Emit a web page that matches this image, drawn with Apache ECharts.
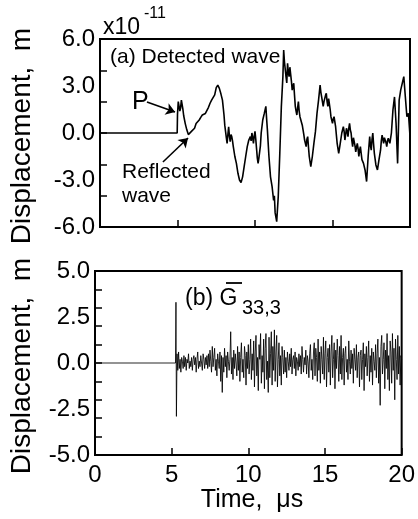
<!DOCTYPE html>
<html><head><meta charset="utf-8">
<script src="https://cdn.jsdelivr.net/npm/echarts@6/dist/echarts.min.js"></script>
<style>html,body{margin:0;padding:0;background:#fff}#c{width:418px;height:519px}</style>
</head><body><div id="c"></div>
<script>
// ---------- data ----------
const timeTicks = [0, 5, 10, 15, 20];             // μs
const topYLabels = [-6, -3, 0, 3, 6];              // x10^-11 m
const bottomYLabels = [-5, -2.5, 0, 2.5, 5];

// (a) detected wave: [time μs, displacement x1e-11 m]
const detectedWave = [
[0,0],[4.98,0],[5.0,1.2],[5.05,2.0],[5.1,1.9],[5.15,1.4],[5.2,1.6],[5.25,2.1],[5.3,2.0],[5.35,1.5],[5.4,1.1],[5.5,0.6],[5.6,0.2],[5.7,-0.1],[5.8,-0.15],[5.9,0.1],[6.0,0.2],[6.1,0.3],[6.2,0.6],[6.3,0.57],[6.4,0.83],[6.5,1.0],[6.6,1.15],[6.7,1.05],[6.8,1.25],[6.9,1.36],[7.0,1.64],[7.1,1.9],[7.2,2.1],[7.3,2.2],[7.4,2.43],[7.5,2.9],[7.6,3.06],[7.7,2.85],[7.8,2.5],[7.9,2.1],
[8.0,1.15],[8.05,0.5],[8.1,0.1],[8.15,-0.3],[8.2,-0.66],[8.25,-0.1],[8.3,0.4],[8.35,-0.2],[8.4,-0.55],[8.45,-0.1],[8.5,-0.23],[8.55,-0.5],[8.6,-0.87],[8.7,-1.5],[8.8,-1.94],[8.9,-2.57],[9.0,-3.0],[9.1,-3.17],[9.2,-2.8],[9.3,-2.15],[9.4,-1.5],[9.5,-0.87],[9.6,-0.45],[9.7,-0.23],[9.75,-0.5],[9.8,0],[9.85,-0.3],[9.9,-0.66],[9.95,-0.2],[10.0,0.1],[10.05,-0.4],[10.1,-1.0],[10.15,-1.6],[10.2,-1.94],[10.25,-1.6],[10.3,-1.5],[10.35,-0.8],[10.4,0],[10.5,0.83],[10.6,1.25],[10.7,1.7],[10.75,0.9],[10.8,0.2],[10.9,-1.5],[11.0,-2.8],[11.1,-3.4],[11.2,-4.3],[11.25,-4.0],[11.3,-5.1],[11.4,-5.66],[11.5,-4.06],[11.6,-1.3],[11.7,1.7],[11.8,3.6],[11.85,5.3],[11.9,4.55],
[12.0,3.6],[12.05,3.2],[12.1,4.45],[12.15,3.9],[12.2,3.6],[12.25,4.2],[12.3,4.1],[12.35,3.3],[12.4,2.74],[12.45,3.0],[12.5,3.17],[12.55,2.4],[12.6,1.7],[12.65,1.4],[12.7,1.15],[12.75,1.6],[12.8,2.0],[12.85,1.4],[12.9,1.04],[13.0,0.94],[13.05,0.5],[13.1,0.2],[13.15,-0.1],[13.2,-0.45],[13.3,-0.87],[13.35,-0.4],[13.4,-0.23],[13.45,-0.9],[13.5,-1.5],[13.6,-2.15],[13.7,-1.5],[13.8,-0.66],[13.9,0.1],[14.0,1.25],[14.1,2.1],
[14.2,3.06],[14.25,2.6],[14.3,2.3],[14.35,2.0],[14.4,1.7],[14.45,2.0],[14.5,2.1],[14.55,2.4],[14.6,2.53],[14.65,2.0],[14.7,1.7],[14.75,2.2],[14.8,2.1],[14.85,1.5],[14.9,1.04],[15.0,0.62],[15.05,0.9],[15.1,1.04],[15.2,0.4],[15.3,-0.66],[15.4,-1.3],[15.5,-0.66],[15.6,0],[15.7,0.4],[15.75,0.1],[15.8,-0.45],[15.85,-0.1],[15.9,0.3],[15.95,0.1],[16.0,-0.23],[16.05,0.3],[16.1,0.62],[16.15,0.2],[16.2,0],[16.25,-0.5],[16.3,-0.87],[16.35,-0.3],[16.4,-0.23],[16.45,-0.8],[16.5,-1.2],[16.55,-0.9],[16.6,-0.66],[16.65,-1.0],[16.7,-1.5],[16.75,-1.1],[16.8,-0.87],[16.85,-1.3],[16.9,-1.7],
[17.0,-1.94],[17.1,-2.36],[17.2,-3.1],[17.3,-1.5],[17.4,-0.23],[17.45,-0.8],[17.5,-1.1],[17.55,-0.4],[17.6,0],[17.65,-0.7],[17.7,-1.3],[17.8,-2.04],[17.9,-2.36],[18.0,-1.7],[18.1,-1.1],[18.15,-0.5],[18.2,-0.13],[18.25,-0.4],[18.3,-0.66],[18.35,-0.3],[18.4,-0.23],[18.45,-0.6],[18.5,-0.87],[18.55,-0.5],[18.6,-0.34],[18.65,-0.5],[18.7,-0.66],[18.8,0],[18.9,1.47],[19.0,2.3],[19.1,0.62],[19.2,-1.94],[19.3,2.1],[19.4,2.74],[19.5,3.17],[19.6,3.6],[19.7,2.3],[19.8,1.04],[19.9,1.25],[20.0,-0.2]
];

// (b) G33,3: quiet part, first arrival spike, then samples every 0.05 μs from 5.35 μs
const gQuiet = [[0,0],[5.25,0],[5.28,3.3],[5.31,-2.9]];
const gStart = 5.35, gStep = 0.05;
const gValues = [
0.5,-0.4,0.6,-0.3,0.2,-0.5,0.3,0.1,-0.3,0.4,-0.2,0.3,-0.4,0.2,0.0,0.5,-0.3,0.1,-0.2,0.3,
-0.4,0.2,0.4,-0.1,0.3,-0.5,0.2,0.6,-0.3,0.1,-0.2,0.4,0.0,-0.4,0.5,0.2,-0.3,0.3,-0.1,0.4,
-0.3,0.5,-0.2,0.7,0.1,-0.5,0.9,-0.2,0.3,0.8,-0.4,0.2,-0.7,0.5,0.1,-0.3,0.6,-1.0,0.4,-1.6,
0.3,-0.5,0.8,-0.2,0.4,-0.8,0.6,0.1,-0.4,0.2,1.7,-0.6,0.3,-0.9,0.7,-0.3,0.5,0.0,-0.7,0.9,
-0.4,0.6,-1.0,0.3,1.1,-0.5,0.2,-0.8,0.9,0.4,-1.2,0.6,-0.3,1.0,-0.6,0.2,1.3,-0.9,0.5,-0.4,
1.2,-1.3,0.6,1.5,-0.7,0.3,-1.5,1.0,0.2,1.6,-1.1,0.4,-0.5,1.3,-1.4,0.8,1.6,-0.9,0.1,-1.6,
1.4,-0.8,0.5,1.7,-1.2,0.9,-0.4,1.8,-1.0,0.6,1.5,-1.3,0.2,1.1,-0.7,0.4,-1.2,0.9,0.3,-0.6,
0.7,-0.5,0.3,-0.8,0.6,0.1,-0.4,0.5,-0.2,0.8,-0.6,0.2,0.4,-0.3,0.6,-0.7,0.3,0.1,-0.4,0.5,
-0.2,0.4,-0.6,0.9,0.2,-0.5,0.3,-0.1,0.7,-0.6,0.4,0.1,-0.8,0.5,1.0,-0.4,0.2,-0.9,0.6,1.1,
-0.7,0.8,0.3,-1.0,1.3,-0.4,0.6,-1.1,0.9,0.2,-0.6,1.4,-0.9,0.5,1.2,-1.3,0.3,0.8,-0.5,1.0,
-1.2,0.6,1.5,-0.8,0.2,1.1,-1.4,0.7,-0.3,1.3,0.4,-1.0,0.9,-0.6,1.5,-0.9,0.3,0.8,-1.2,0.5,
0.9,-0.5,0.2,-0.9,1.2,0.1,-0.6,0.7,-0.3,0.5,-1.1,0.8,0.2,-0.4,1.0,-0.8,0.3,0.6,-1.3,0.4,
0.7,-0.9,0.2,1.1,-1.5,0.5,-0.2,0.9,-0.7,0.3,1.2,-1.0,0.4,-0.5,0.8,-1.2,0.6,0.1,-0.4,1.0,
-0.8,0.5,1.3,-1.1,0.3,-2.3,0.9,1.5,-0.6,0.2,1.1,-1.4,0.7,-0.3,1.6,-0.9,0.4,-1.5,1.2,0.6,
-1.1,1.6,-0.4,0.8,-2.0,1.3,0.2,-0.9,1.5,-0.6,0.9,-1.2,0.4,0.2
];

// annotation arrows (data coordinates of panel a)
const arrowP = [[3.03, 1.98], [4.84, 1.34]];
const arrowReflected = [[4.06, -1.85], [5.68, -0.32]];

// ---------- chart ----------
const FONT = "'Liberation Sans', Arial, Helvetica, sans-serif";
const black = '#000';
const gSeries = gQuiet.concat(gValues.map((v, i) => [+(gStart + i * gStep).toFixed(2), v]));
const fmt1 = v => (Math.abs(v) < 1e-9 ? 0 : v).toFixed(1);

const tickAxis = (gi, min, max, interval) => ({
  gridIndex: gi, type: 'value', position: 'left', min, max, interval,
  axisLine: { show: false, onZero: false }, splitLine: { show: false },
  axisTick: { show: true, inside: true, length: 7, lineStyle: { color: black, width: 1.5 } },
  axisLabel: { show: false }
});
const labelAxis = (gi, min, max, interval) => ({
  gridIndex: gi, type: 'value', position: 'left', min, max, interval,
  axisLine: { show: false, onZero: false }, splitLine: { show: false }, axisTick: { show: false },
  axisLabel: { show: true, formatter: fmt1, color: black, fontSize: 24, fontFamily: FONT, margin: 5 }
});

const chart = echarts.init(document.getElementById('c'), null, { renderer: 'canvas' });
chart.setOption({
  animation: false,
  backgroundColor: '#fff',
  grid: [
    { left: 100, top: 39, width: 310, height: 188, show: true, borderColor: black, borderWidth: 2, backgroundColor: 'transparent' },
    { left: 95, top: 271, width: 311, height: 184, show: true, borderColor: black, borderWidth: 2, backgroundColor: 'transparent' }
  ],
  xAxis: [
    { gridIndex: 0, type: 'value', position: 'bottom', min: timeTicks[0], max: timeTicks[timeTicks.length - 1], interval: 5,
      axisLine: { show: false, onZero: false }, splitLine: { show: false }, axisLabel: { show: false },
      axisTick: { inside: true, length: 7, lineStyle: { color: black, width: 1.5 } } },
    { gridIndex: 1, type: 'value', position: 'bottom', min: timeTicks[0], max: timeTicks[timeTicks.length - 1], interval: 5,
      axisLine: { show: false, onZero: false }, splitLine: { show: false },
      axisTick: { inside: true, length: 7, lineStyle: { color: black, width: 1.5 } },
      axisLabel: { color: black, fontSize: 24, fontFamily: FONT, margin: 8 } }
  ],
  yAxis: [
    labelAxis(0, topYLabels[0], topYLabels[topYLabels.length - 1], 3),
    tickAxis(0, -6, 6, 2),
    labelAxis(1, bottomYLabels[0], bottomYLabels[bottomYLabels.length - 1], 2.5),
    tickAxis(1, -5, 5, 1)
  ],
  series: [
    { type: 'line', xAxisIndex: 0, yAxisIndex: 0, data: detectedWave, showSymbol: false, symbol: 'none',
      lineStyle: { color: black, width: 1.6 }, silent: true,
      markLine: { silent: true, symbol: ['none', 'arrow'], symbolSize: 9, animation: false,
        label: { show: false }, lineStyle: { color: black, width: 1.6, type: 'solid' },
        emphasis: { disabled: true },
        data: [
          [{ coord: arrowP[0] }, { coord: arrowP[1] }],
          [{ coord: arrowReflected[0] }, { coord: arrowReflected[1] }]
        ] } },
    { type: 'line', xAxisIndex: 1, yAxisIndex: 2, data: gSeries, showSymbol: false, symbol: 'none',
      lineStyle: { color: black, width: 0.85 }, silent: true }
  ],
  graphic: [
    { type: 'text', x: 22, y: 136, rotation: Math.PI / 2,
      style: { text: 'Displacement,  m', fontSize: 28, fontFamily: FONT, fill: black, align: 'center', verticalAlign: 'middle' } },
    { type: 'text', x: 22, y: 366, rotation: Math.PI / 2,
      style: { text: 'Displacement,  m', fontSize: 28, fontFamily: FONT, fill: black, align: 'center', verticalAlign: 'middle' } },
    { type: 'text', x: 103, y: 28, style: { text: 'x10', fontSize: 23, fontFamily: FONT, fill: black, align: 'left', verticalAlign: 'middle' } },
    { type: 'text', x: 144, y: 14, style: { text: '-11', fontSize: 16, fontFamily: FONT, fill: black, align: 'left', verticalAlign: 'middle' } },
    { type: 'text', x: 110, y: 57, style: { text: '(a) Detected wave', fontSize: 21, fontFamily: FONT, fill: black, align: 'left', verticalAlign: 'middle' } },
    { type: 'text', x: 132, y: 102, style: { text: 'P', fontSize: 25, fontFamily: FONT, fill: black, align: 'left', verticalAlign: 'middle' } },
    { type: 'text', x: 122, y: 172, style: { text: 'Reflected', fontSize: 21, fontFamily: FONT, fill: black, align: 'left', verticalAlign: 'middle' } },
    { type: 'text', x: 122, y: 196, style: { text: 'wave', fontSize: 21, fontFamily: FONT, fill: black, align: 'left', verticalAlign: 'middle' } },
    { type: 'text', x: 185, y: 299, style: { text: '(b) G', fontSize: 23, fontFamily: FONT, fill: black, align: 'left', verticalAlign: 'middle' } },
    { type: 'text', x: 242, y: 308, style: { text: '33,3', fontSize: 20, fontFamily: FONT, fill: black, align: 'left', verticalAlign: 'middle' } },
    { type: 'line', shape: { x1: 226, y1: 283, x2: 242, y2: 283 }, style: { stroke: black, lineWidth: 1.8 } },
    { type: 'text', x: 252, y: 500, style: { text: 'Time,  μs', fontSize: 25, fontFamily: FONT, fill: black, align: 'center', verticalAlign: 'middle' } }
  ]
});
</script></body></html>
